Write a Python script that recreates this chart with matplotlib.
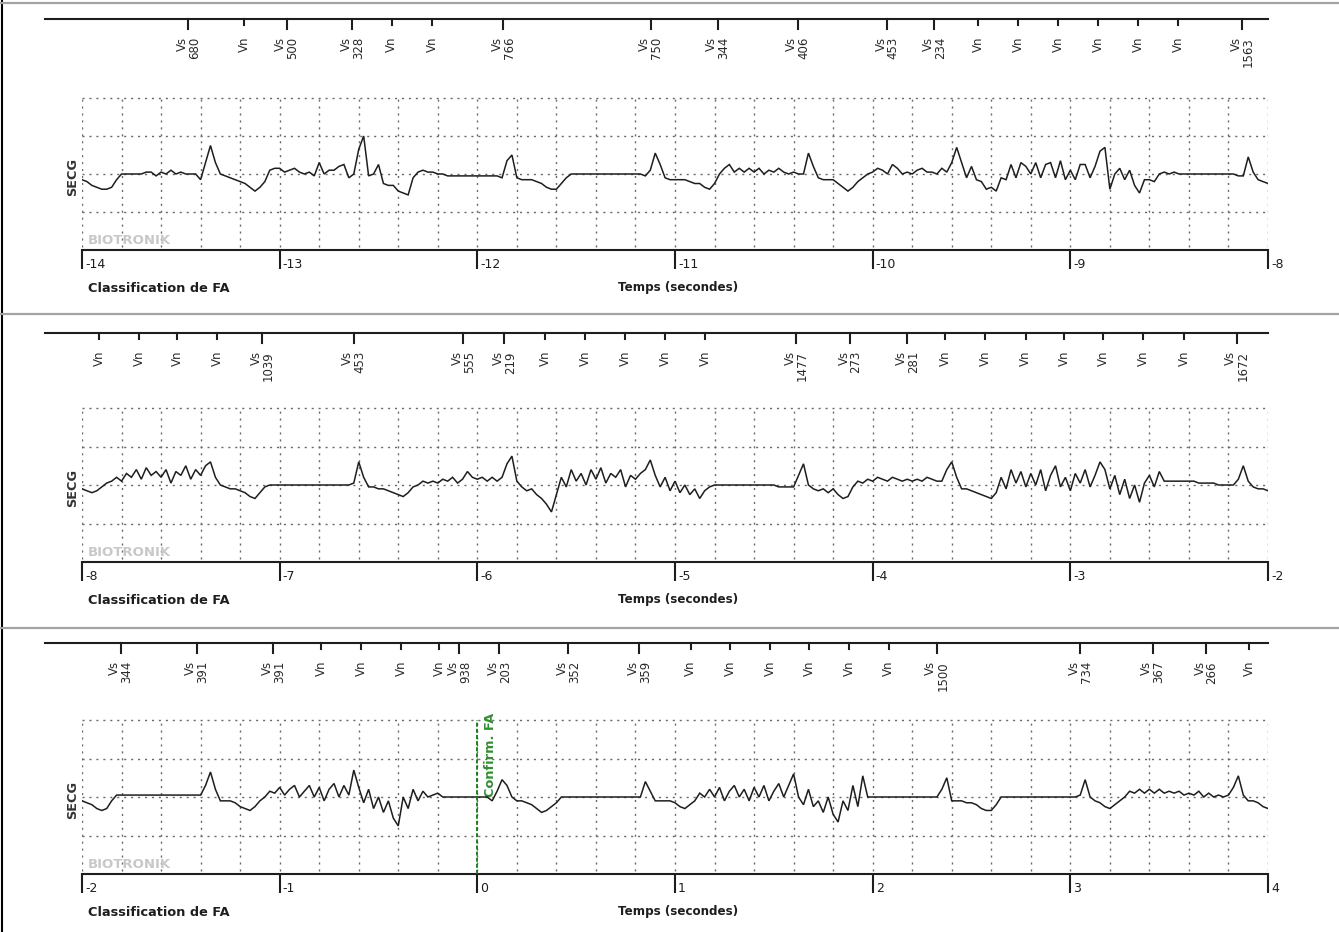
import numpy as np
import matplotlib
matplotlib.use("Agg")
import matplotlib.pyplot as plt
from matplotlib.lines import Line2D

plt.rcParams['font.family'] = ['DejaVu Sans']

# ---------------- data ----------------
strip_start = [-14, -8, -2]          # seconds
strip_len = 6

marker1_t = [-13.462, -13.179, -12.964, -12.633, -12.433, -12.228, -11.869, -11.123,
             -10.784, -10.379, -9.926, -9.688, -9.466, -9.263, -9.061, -8.859,
             -8.656, -8.454, -8.130]
marker1_lab = ["Vs 680", "Vn", "Vs 500", "Vs 328", "Vn", "Vn", "Vs 766", "Vs 750",
               "Vs 344", "Vs 406", "Vs 453", "Vs 234", "Vn", "Vn", "Vn", "Vn",
               "Vn", "Vn", "Vs 1563"]

marker2_t = [-7.912, -7.712, -7.518, -7.316, -7.088, -6.625, -6.071, -5.864,
             -5.658, -5.455, -5.253, -5.051, -4.848, -4.388, -4.115, -3.825,
             -3.633, -3.432, -3.226, -3.032, -2.833, -2.631, -2.425, -2.158]
marker2_lab = ["Vn", "Vn", "Vn", "Vn", "Vs 1039", "Vs 453", "Vs 555", "Vs 219",
               "Vn", "Vn", "Vn", "Vn", "Vn", "Vs 1477", "Vs 273", "Vs 281",
               "Vn", "Vn", "Vn", "Vn", "Vn", "Vn", "Vn", "Vs 1672"]

marker3_t = [-1.804, -1.420, -1.032, -0.791, -0.589, -0.386, -0.192, -0.091,
             0.111, 0.460, 0.819, 1.079, 1.278, 1.481, 1.679, 1.882,
             2.081, 2.324, 3.049, 3.417, 3.686, 3.905]
marker3_lab = ["Vs 344", "Vs 391", "Vs 391", "Vn", "Vn", "Vn", "Vn", "Vs 938",
               "Vs 203", "Vs 352", "Vs 359", "Vn", "Vn", "Vn", "Vn", "Vn",
               "Vn", "Vs 1500", "Vs 734", "Vs 367", "Vs 266", "Vn"]

# SECG samples, 40 Hz (0.025 s), amplitude in grid divisions
ecg1 = [
    -0.15, -0.2, -0.3, -0.35, -0.4, -0.4, -0.35, -0.15,
    0, 0, 0, 0, 0, 0.05, 0.05, -0.05,
    0.05, 0, 0.1, 0, 0.05, 0, 0, 0,
    -0.15, 0.3, 0.75, 0.3, 0, -0.05, -0.1, -0.15,
    -0.2, -0.25, -0.35, -0.45, -0.35, -0.2, 0.1, 0.15,
    0.15, 0.05, 0.1, 0.15, 0.05, 0, 0.05, -0.05,
    0.3, 0, 0.1, 0.1, 0.2, 0.25, -0.1, 0,
    0.65, 1.0, -0.05, 0, 0.25, -0.25, -0.3, -0.3,
    -0.45, -0.5, -0.55, -0.1, 0.05, 0.1, 0.05, 0.05,
    0, 0, -0.05, -0.05, -0.05, -0.05, -0.05, -0.05,
    -0.05, -0.05, -0.05, -0.05, -0.05, -0.1, 0.35, 0.5,
    -0.1, -0.15, -0.15, -0.15, -0.2, -0.25, -0.35, -0.4,
    -0.4, -0.25, -0.1, 0, 0, 0, 0, 0,
    0, 0, 0, 0, 0, 0, 0, 0,
    0, 0, -0.05, 0.1, 0.55, 0.25, -0.1, -0.15,
    -0.15, -0.15, -0.15, -0.2, -0.25, -0.25, -0.35, -0.4,
    -0.25, 0, 0.15, 0.25, 0.05, 0.15, 0.05, 0.15,
    0.05, 0.15, 0, 0.1, 0.05, 0.15, 0.05, 0,
    0.05, 0, 0, 0.55, 0.2, -0.1, -0.15, -0.15,
    -0.15, -0.25, -0.35, -0.45, -0.35, -0.2, -0.1, 0,
    0.05, 0.15, 0.1, 0, 0.25, 0.15, 0, 0.05,
    0, 0.1, 0.15, 0.05, 0.05, 0, 0.15, 0.05,
    0.3, 0.7, 0.3, -0.1, 0.2, -0.15, -0.2, -0.4,
    -0.35, -0.45, -0.1, -0.15, 0.25, -0.1, 0.3, 0.2,
    0, 0.3, -0.1, 0.25, 0.3, -0.1, 0.35, -0.15,
    0.1, -0.15, 0.25, 0.25, -0.1, 0.2, 0.6, 0.7,
    -0.4, 0, 0.15, -0.15, 0.1, -0.3, -0.5, -0.15,
    -0.15, -0.2, 0, 0.05, 0, 0.05, 0, 0,
    0, 0, 0, 0, 0, 0, 0, 0,
    0, 0, -0.05, -0.05, 0.45, 0.05, -0.15, -0.2,
    -0.25]

ecg2 = [
    -0.1, -0.15, -0.2, -0.15, -0.05, 0.05, 0.1, 0.2,
    0.1, 0.3, 0.2, 0.4, 0.15, 0.45, 0.25, 0.35,
    0.2, 0.4, 0.05, 0.35, 0.25, 0.5, 0.15, 0.4,
    0.25, 0.5, 0.6, 0.2, 0, -0.05, -0.1, -0.1,
    -0.15, -0.2, -0.3, -0.35, -0.2, -0.05, 0, 0,
    0, 0, 0, 0, 0, 0, 0, 0,
    0, 0, 0, 0, 0, 0, 0, 0.05,
    0.6, 0.2, -0.05, -0.05, -0.1, -0.1, -0.15, -0.2,
    -0.25, -0.3, -0.2, -0.05, 0, 0.1, 0.05, 0.1,
    0.05, 0.15, 0.1, 0.2, 0.05, 0.15, 0.35, 0.2,
    0.15, 0.2, 0.1, 0.2, 0.1, 0.2, 0.55, 0.75,
    0.1, -0.05, -0.15, -0.1, -0.25, -0.35, -0.5, -0.7,
    -0.25, 0.2, -0.05, 0.4, 0.1, 0.3, 0, 0.4,
    0.15, 0.45, 0.05, 0.3, 0.2, 0.4, -0.05, 0.25,
    0.15, 0.3, 0.4, 0.65, 0.25, -0.05, 0.2, -0.15,
    0.1, -0.2, 0, -0.25, -0.1, -0.35, -0.15, -0.05,
    0, 0, 0, 0, 0, 0, 0, 0,
    0, 0, 0, 0, 0, -0.05, -0.05, -0.05,
    -0.05, 0.25, 0.55, 0, -0.1, -0.15, -0.1, -0.2,
    -0.1, -0.25, -0.35, -0.3, -0.05, 0.1, 0.05, 0.15,
    0.1, 0.2, 0.15, 0.1, 0.2, 0.15, 0.1, 0.15,
    0.1, 0.15, 0.1, 0.2, 0.15, 0.1, 0.1, 0.4,
    0.6, 0.2, -0.1, -0.1, -0.15, -0.2, -0.25, -0.3,
    -0.35, -0.2, 0.2, -0.1, 0.4, 0.05, 0.35, -0.05,
    0.3, 0, 0.4, -0.15, 0.25, 0.5, -0.05, 0.2,
    -0.15, 0.3, 0.05, 0.4, -0.05, 0.25, 0.6, 0.4,
    -0.1, 0.25, -0.25, 0.15, -0.35, 0, -0.45, 0.05,
    0.25, -0.05, 0.35, 0.1, 0.1, 0.1, 0.1, 0.1,
    0.1, 0.1, 0.05, 0.05, 0.05, 0.05, 0, 0,
    0, 0, 0.15, 0.5, 0.1, -0.05, -0.1, -0.1,
    -0.15]

ecg3 = [
    -0.1, -0.15, -0.2, -0.3, -0.35, -0.3, -0.1, 0.05,
    0.05, 0.05, 0.05, 0.05, 0.05, 0.05, 0.05, 0.05,
    0.05, 0.05, 0.05, 0.05, 0.05, 0.05, 0.05, 0.05,
    0.05, 0.3, 0.65, 0.2, -0.1, -0.1, -0.1, -0.15,
    -0.25, -0.3, -0.35, -0.25, -0.1, 0, 0.15, 0.1,
    0.25, 0.05, 0.2, 0.3, 0, 0.15, 0.3, 0,
    0.25, -0.1, 0.2, 0.35, 0, 0.3, 0.05, 0.7,
    0.25, -0.15, 0.2, -0.3, 0, -0.4, -0.1, -0.55,
    -0.75, 0, -0.3, 0.2, -0.1, 0.15, 0, 0.05,
    0.1, 0, 0, 0, 0, 0, 0, 0,
    0, 0, 0, -0.1, 0.15, 0.45, 0.3, 0,
    -0.1, -0.1, -0.15, -0.2, -0.3, -0.4, -0.35, -0.25,
    -0.15, 0, 0, 0, 0, 0, 0, 0,
    0, 0, 0, 0, 0, 0, 0, 0,
    0, 0, 0.4, 0.15, -0.1, -0.1, -0.1, -0.1,
    -0.15, -0.25, -0.3, -0.2, -0.1, 0.1, 0, 0.2,
    0, 0.25, -0.1, 0.15, 0.3, 0, 0.2, -0.1,
    0.25, 0, 0.3, -0.1, 0.15, 0.35, 0, 0.3,
    0.6, 0, -0.2, 0.2, -0.25, -0.1, -0.4, 0,
    -0.45, -0.65, -0.1, -0.35, 0.3, -0.25, 0.55, 0,
    0, 0, 0, 0, 0, 0, 0, 0,
    0, 0, 0, 0, 0, 0, 0.2, 0.5,
    -0.1, -0.1, -0.1, -0.15, -0.15, -0.2, -0.3, -0.35,
    -0.35, -0.2, 0, 0, 0, 0, 0, 0,
    0, 0, 0, 0, 0, 0, 0, 0,
    0, 0, 0.05, 0.45, 0, -0.1, -0.15, -0.25,
    -0.3, -0.2, -0.1, 0, 0.15, 0.1, 0.2, 0.1,
    0.2, 0.1, 0.2, 0.1, 0.15, 0.1, 0.15, 0.05,
    0.1, 0.05, 0.15, 0, 0.1, 0, 0.05, 0,
    0.05, 0.25, 0.55, 0.05, -0.1, -0.1, -0.15, -0.25,
    -0.3]

confirm_t = 0.0
confirm_label = "Confirm. FA"
channel_label = "SECG"
brand_label = "BIOTRONIK"
left_label = "Classification de FA"
time_label = "Temps (secondes)"

markers_t = [marker1_t, marker2_t, marker3_t]
markers_lab = [marker1_lab, marker2_lab, marker3_lab]
ecgs = [ecg1, ecg2, ecg3]

# ---------------- layout (pixels) ----------------
W, H = 1339, 932
X_LEFT, X_RIGHT = 82, 1268
LINE_Y = [19, 333, 643]
GRID_TOP = [98, 408, 720]
AXIS_Y = [250, 562, 874]
SEP_Y = [3, 314, 628]
LINE_START_X = 45

INK = '#1e1e1e'
GRID_C = '#6a6a6a'
GREEN_LINE = '#0b7a0b'
GREEN_TEXT = '#2f8f2f'

fig = plt.figure(figsize=(W / 100, H / 100), dpi=100)
fig.patch.set_facecolor('white')

# page frame
fig.add_artist(Line2D([2 / W, 2 / W], [0, 1], color='black', lw=1.5))
for sy in SEP_Y:
    fig.add_artist(Line2D([0, 1], [1 - sy / H, 1 - sy / H], color='#a3a3a3', lw=1.6))

for i in range(3):
    t0 = strip_start[i]
    t1 = t0 + strip_len
    unit = (AXIS_Y[i] - GRID_TOP[i]) / 4.0
    ytop = 2 + (GRID_TOP[i] - LINE_Y[i]) / unit
    ax = fig.add_axes([X_LEFT / W, 1 - AXIS_Y[i] / H,
                       (X_RIGHT - X_LEFT) / W, (AXIS_Y[i] - LINE_Y[i]) / H])
    ax.set_xlim(t0, t1)
    ax.set_ylim(-2, ytop)
    ax.set_facecolor('none')
    for s in ['top', 'left', 'right']:
        ax.spines[s].set_visible(False)
    ax.spines['bottom'].set_linewidth(1.5)
    ax.spines['bottom'].set_color(INK)
    ticks = list(range(t0, t1 + 1))
    ax.set_xticks(ticks)
    ax.set_yticks([])
    ax.tick_params(axis='x', direction='out', length=13.5, width=1.5,
                   color=INK, labelbottom=False)
    for tk in ticks:
        ax.annotate(str(tk), xy=(tk, -2), xytext=(3, -14), textcoords='offset pixels',
                    ha='left', va='center', fontsize=9, color=INK)

    # dotted grid
    vt = np.arange(t0, t1 + 1e-9, 0.2)
    ax.vlines(vt, -1.92, 2, colors=GRID_C, linestyles=(0, (1.5, 3.5)), lw=1.0)
    ax.hlines([-1, 0, 1, 2], t0, t1, colors=GRID_C, linestyles=(0, (1.5, 3.5)), lw=1.0)

    # ECG
    e = np.array(ecgs[i], dtype=float)
    tt = np.linspace(t0, t1, len(e))
    ax.plot(tt, e, color=INK, lw=1.1, solid_joinstyle='miter', zorder=5)

    # marker channel
    ax.plot([(LINE_START_X - X_LEFT) / (X_RIGHT - X_LEFT), 1], [1, 1],
            transform=ax.transAxes, color=INK, lw=1.5, clip_on=False)
    for t, lab in zip(markers_t[i], markers_lab[i]):
        is_vs = lab.startswith('Vs')
        tl = (10 if is_vs else 6) / unit
        ax.plot([t, t], [ytop, ytop - tl], color=INK, lw=1.5, clip_on=False)
        ax.annotate(lab.replace(' ', '\n'), xy=(t, ytop), xytext=(0, -18),
                    textcoords='offset pixels', rotation=90, ha='center', va='top',
                    multialignment='right', fontsize=8.5, linespacing=0.9,
                    color='#2a2a2a')

    # labels
    fig.text(73 / W, 1 - (GRID_TOP[i] + 2 * unit + 3) / H, channel_label, rotation=90,
             ha='center', va='center', fontsize=9.3, fontweight='bold', color='#333333')
    fig.text(88 / W, 1 - (AXIS_Y[i] - 9) / H, brand_label, ha='left', va='center',
             fontsize=9.5, fontweight='bold', color='#c8c8c8')
    fig.text(88 / W, 1 - (AXIS_Y[i] + 38) / H, left_label, ha='left', va='center',
             fontsize=9.3, fontweight='bold', color=INK)
    fig.text(678 / W, 1 - (AXIS_Y[i] + 38) / H, time_label, ha='center', va='center',
             fontsize=8.6, fontweight='bold', color=INK)

    if t0 <= confirm_t <= t1:
        ax.vlines([confirm_t], -2, 2, colors=GREEN_LINE, linestyles=(0, (2.2, 1.2)),
                  lw=1.3, zorder=6)
        ax.annotate(confirm_label, xy=(confirm_t, 2), xytext=(13, 7),
                    textcoords='offset pixels', rotation=90, ha='center', va='top',
                    fontsize=9.3, fontweight='bold', color=GREEN_TEXT)

fig.savefig('out.png', dpi=100)
